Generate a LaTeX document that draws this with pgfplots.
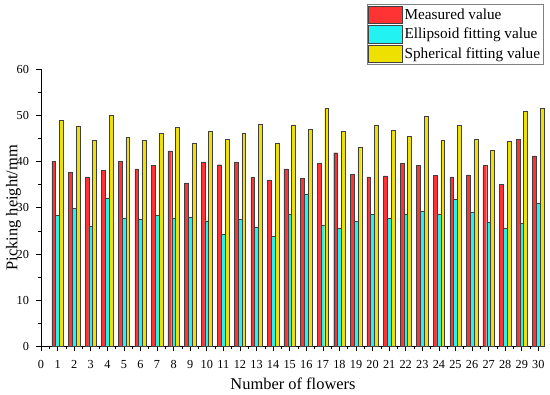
\documentclass[border=0pt]{standalone}
\usepackage{pgfplots}
\pgfplotsset{compat=1.18}
\usepackage{pgfplotstable}
\usepackage{fontspec}
\setmainfont{Liberation Serif}
\definecolor{cred}{HTML}{FF3333}
\definecolor{ccyan}{HTML}{22F2F2}
\definecolor{cyel}{HTML}{EEE000}
\pgfplotstableread{
n meas ell sph
1 40.1 28.4 48.9
2 37.7 29.9 47.7
3 36.7 26.0 44.5
4 38.1 32.0 50.0
5 40.0 27.8 45.2
6 38.4 27.5 44.6
7 39.1 28.3 46.1
8 42.3 27.8 47.4
9 35.4 28.0 43.9
10 39.9 27.2 46.5
11 39.3 24.2 44.8
12 39.8 27.6 46.1
13 36.6 25.8 48.0
14 36.0 23.9 44.0
15 38.4 28.7 47.9
16 36.4 33.0 47.0
17 39.6 26.3 51.5
18 41.9 25.6 46.5
19 37.2 27.0 43.1
20 36.7 28.6 47.9
21 36.9 27.7 46.7
22 39.6 28.5 45.5
23 39.1 29.3 49.8
24 37.0 28.6 44.6
25 36.7 31.8 47.8
26 37.1 29.1 44.8
27 39.1 26.9 42.4
28 35.0 25.5 44.4
29 44.8 26.7 50.9
30 41.2 30.9 51.5
}\datatable
\begin{document}
\begin{tikzpicture}
\begin{axis}[
  scale only axis, width=504bp, height=277.5bp,
  xmin=0, xmax=30.4, ymin=0, ymax=60,
  axis x line*=bottom, axis y line*=left,
  axis line style={-, line width=0.6pt},
  ybar=0pt, bar width=3.8bp,
  xtick={0,...,30}, minor x tick num=1,
  ytick={0,10,...,60}, minor y tick num=1,
  tick align=outside, major tick length=4.5bp, minor tick length=2.5bp,
  every tick/.style={black, line width=0.6pt},
  /pgf/number format/assume math mode=true,
  ticklabel style={font=\fontsize{12.3}{14}\selectfont},
  xticklabel style={yshift=-5.5bp},
  yticklabel style={xshift=-4bp},
  xlabel={Number of flowers}, ylabel={Picking height/mm},
  label style={font=\fontsize{16.5}{18}\selectfont},
  xlabel style={at={(axis description cs:0.5,0)}, anchor=base, yshift=-42.5bp},
  ylabel style={at={([xshift=-23.7bp]axis description cs:0,0.5)}, anchor=base},
  legend image code/.code={\draw[#1, line width=0.5pt] (0bp,-8.8bp) rectangle (34bp,8.8bp);},
  legend style={at={(rel axis cs:0.997,1.2332)}, anchor=north east, draw=gray, line width=0.6pt,
    font=\fontsize{15.3}{17}\selectfont, row sep=1.3bp, inner sep=1.2bp, cells={anchor=west}},
]
\addplot[draw=black!75, line width=0.4pt, fill=cred] table[x=n, y=meas] {\datatable};
\addplot[draw=black!75, line width=0.4pt, fill=ccyan] table[x=n, y=ell] {\datatable};
\addplot[draw=black!75, line width=0.4pt, fill=cyel] table[x=n, y=sph] {\datatable};
\legend{Measured value, Ellipsoid fitting value, Spherical fitting value}
\end{axis}
\pgfresetboundingbox
\useasboundingbox (-41bp,-48.5bp) rectangle (509bp,346.5bp);
\end{tikzpicture}
\end{document}
